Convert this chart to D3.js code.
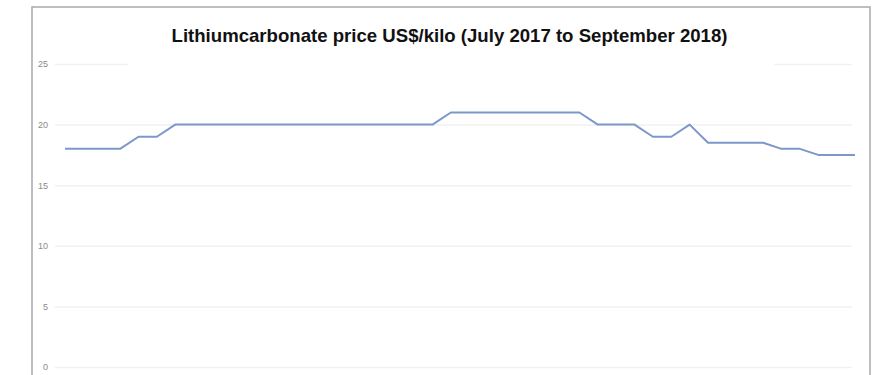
<!DOCTYPE html>
<html>
<head>
<meta charset="utf-8">
<script src="https://cdn.jsdelivr.net/npm/d3@7"></script>
<style>
  html, body { margin: 0; padding: 0; background: #fff; }
  svg { display: block; }
</style>
</head>
<body>
<svg id="chart" width="884" height="375"></svg>
<script>
// Lithium carbonate price, US$ per kilo, one reading per observation period
const periods = d3.range(1, 45).map(i => "P" + i);
const prices = [
  18, 18, 18, 18,
  19, 19,
  20, 20, 20, 20, 20, 20, 20, 20, 20, 20, 20, 20, 20, 20, 20,
  21, 21, 21, 21, 21, 21, 21, 21,
  20, 20, 20,
  19, 19,
  20,
  18.5, 18.5, 18.5, 18.5,
  18, 18,
  17.5, 17.5, 17.5
];
const yTicks = [0, 5, 10, 15, 20, 25];
const titleText = "Lithiumcarbonate price US$/kilo (July 2017 to September 2018)";

const svg = d3.select("#chart");

// outer frame
svg.append("rect")
  .attr("x", 32).attr("y", 7)
  .attr("width", 838).attr("height", 400)
  .attr("fill", "#fff")
  .attr("stroke", "#a9a9a9")
  .attr("stroke-width", 1.5);

const x = d3.scalePoint().domain(periods).range([65, 855]);
const y = d3.scaleLinear().domain([0, 25]).range([367, 64]);

// horizontal grid
const grid = svg.append("g")
  .attr("transform", "translate(55,0)")
  .call(d3.axisLeft(y).tickValues(yTicks).tickSize(-797).tickFormat(""));
grid.select(".domain").remove();
grid.selectAll(".tick line").attr("stroke", "#f1f1f1").attr("stroke-width", 1.5);

// y tick labels
const yAxis = svg.append("g")
  .attr("transform", "translate(48,0)")
  .call(d3.axisLeft(y).tickValues(yTicks).tickSize(0).tickPadding(0));
yAxis.select(".domain").remove();
yAxis.selectAll("text")
  .attr("fill", "#8a8a8a")
  .style("font-family", "Liberation Sans, Arial, sans-serif")
  .style("font-size", "9px");

// title backing hides the top gridline under the heading
svg.append("rect")
  .attr("x", 128).attr("y", 20)
  .attr("width", 646).attr("height", 48)
  .attr("fill", "#fff");

svg.append("text")
  .attr("x", 449.5).attr("y", 42)
  .attr("text-anchor", "middle")
  .attr("font-family", "Liberation Sans, Arial, sans-serif")
  .attr("font-weight", "bold")
  .attr("font-size", 18.6)
  .attr("fill", "#111")
  .text(titleText);

// price line
const line = d3.line()
  .x((d, i) => x(periods[i]))
  .y(d => y(d));

svg.append("path")
  .datum(prices)
  .attr("fill", "none")
  .attr("stroke", "#7d97c9")
  .attr("stroke-width", 2)
  .attr("stroke-linejoin", "round")
  .attr("d", line);
</script>
</body>
</html>
